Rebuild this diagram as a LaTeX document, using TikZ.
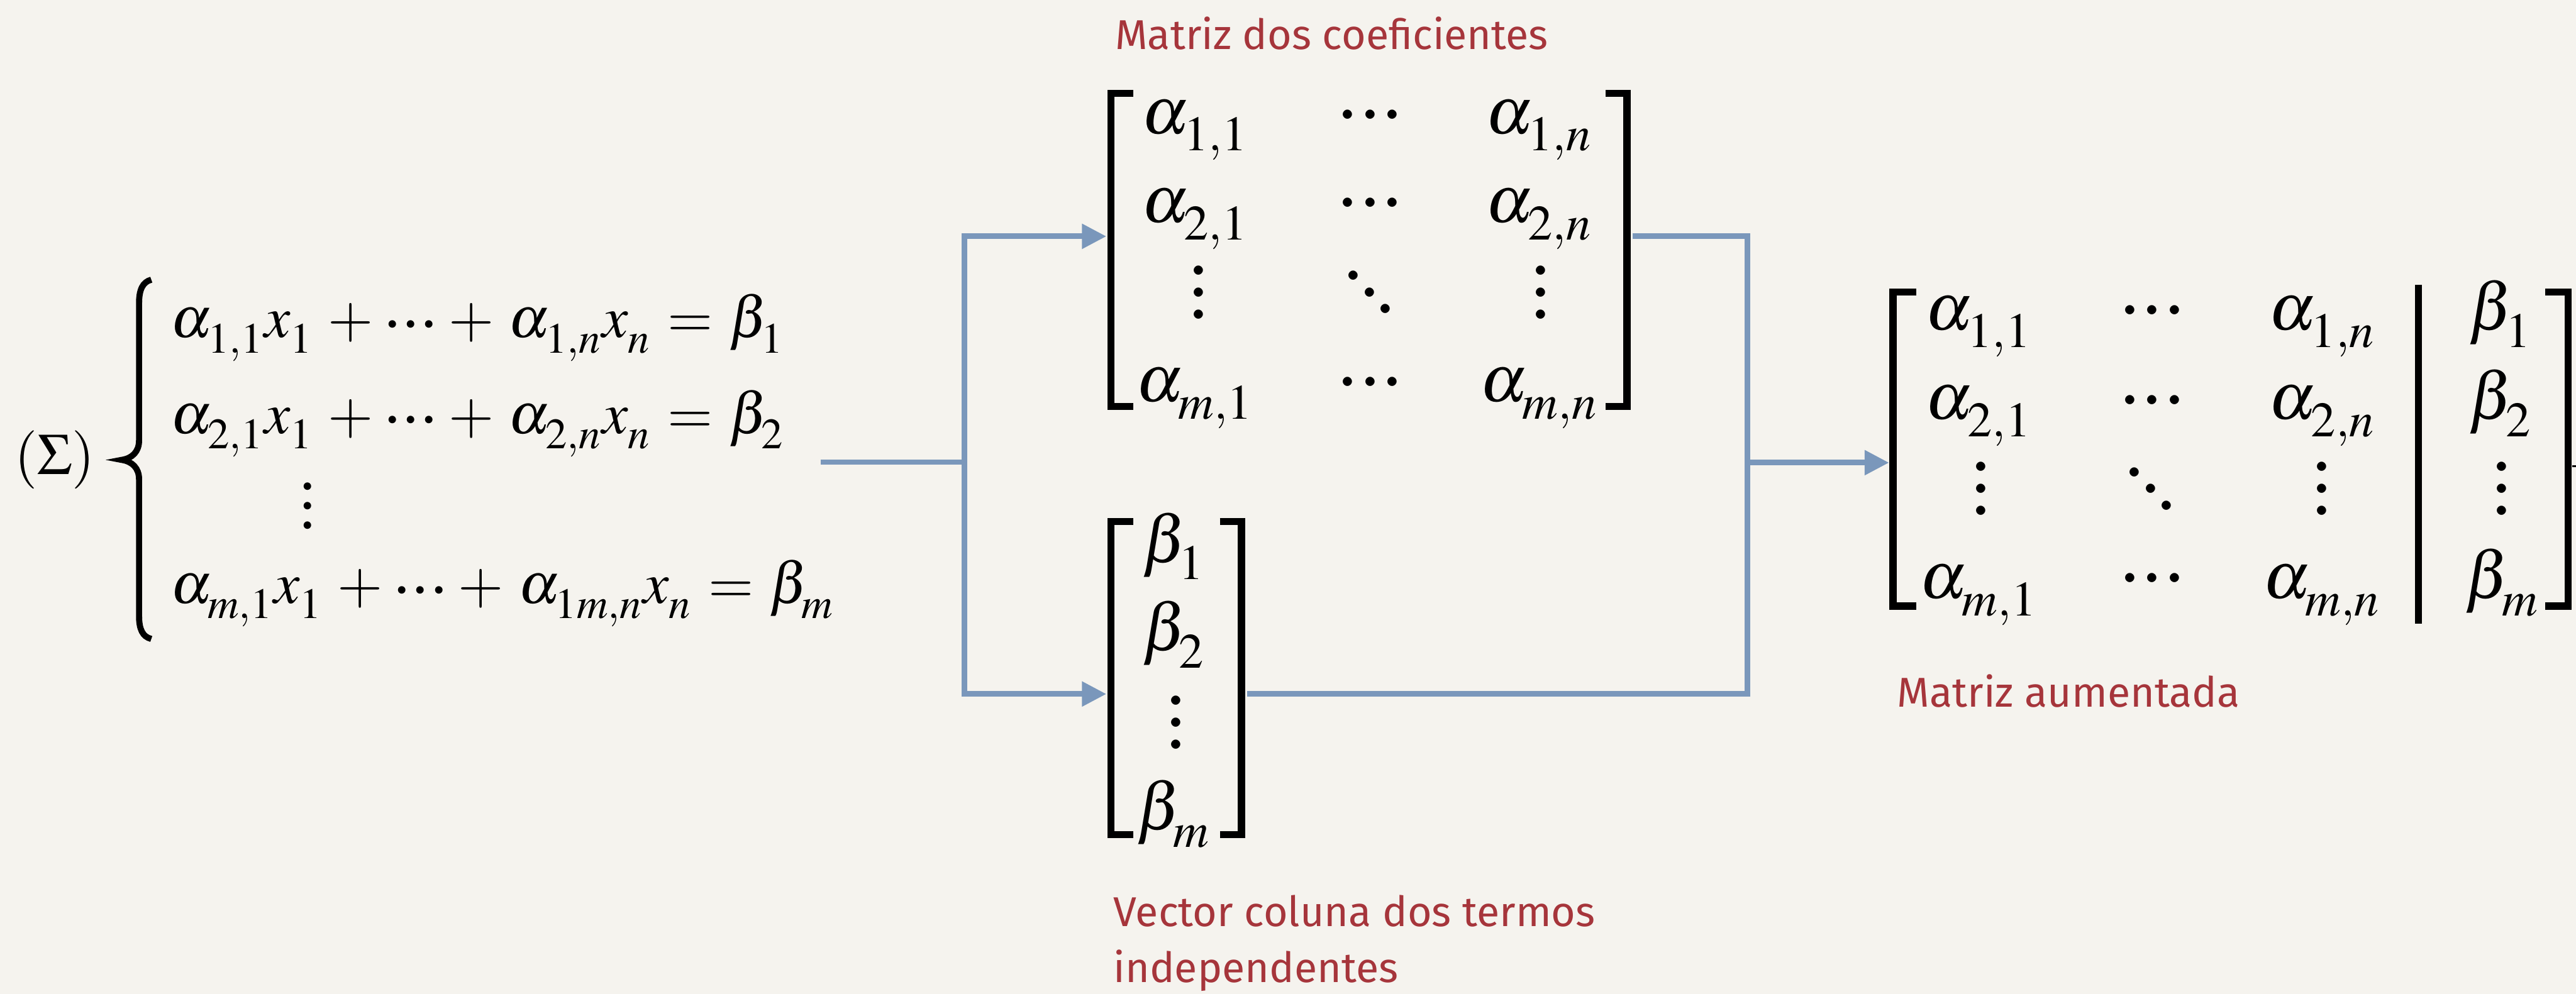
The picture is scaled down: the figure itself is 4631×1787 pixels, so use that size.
\documentclass[tikz,border=0pt]{standalone}
\usepackage{mathptmx}
\usepackage[no-math]{fontspec}
\newfontfamily\labfont{Fira Sans}
\usetikzlibrary{arrows.meta,fit}
\definecolor{bg}{HTML}{F5F3EE}
\definecolor{linkblue}{HTML}{7A97BB}
\definecolor{labred}{HTML}{A6353B}
% large dots (matrix) and small dots (system)
\newcommand\bd{\hbox{\fontsize{8.5}{8.5}\selectfont$\bullet$}}
\newcommand\sbd{\hbox{\fontsize{7}{7}\selectfont$\bullet$}}
\newcommand\Hdots{\hbox{\bd\kern3.75pt\bd\kern3.75pt\bd}}
\newcommand\Vdots{\vbox{\offinterlineskip\bd\kern4.2pt\bd\kern4.2pt\bd}}
\newcommand\Ddots{\hbox{\raise12pt\bd\kern1.55pt\raise6pt\bd\kern1.55pt\bd}}
\newcommand\sHdots{\mathinner{\raise3pt\hbox{\sbd\kern3.1pt\sbd\kern3.1pt\sbd}}}
\newcommand\sVdots{\vbox{\offinterlineskip\sbd\kern3.9pt\sbd\kern3.9pt\sbd}}
\newcommand\sbfix{\fontdimen16\textfont2=0.26\fontdimen6\textfont2}
\newcommand\sysfix{\sbfix\medmuskip=4.5mu\thickmuskip=5mu}
\tikzset{
  mtx/.style={font=\fontsize{24}{28}\selectfont, anchor=base, inner sep=0pt},
  dts/.style={anchor=center, inner sep=0pt},
  sysf/.style={font=\fontsize{21}{25}\selectfont, anchor=base west, inner sep=0pt},
  brk/.style={line width=2.6pt, line join=miter, line cap=butt},
  link/.style={draw=linkblue, line width=2pt, line join=miter},
  arr/.style={link, -{Triangle[length=8.8pt,width=8.6pt]}},
  lab/.style={font=\labfont\fontsize{15}{20.2}\selectfont, text=labred, anchor=base west, inner sep=0pt, align=left},
  hold/.style={inner sep=0pt, draw=none}
}
\begin{document}
\begin{tikzpicture}[x=0.2pt, y=-0.2pt]
\useasboundingbox (0,0) rectangle (4631,1787);
\fill[bg] (0,0) rectangle (4631,1787);

% ---------- system ----------
\node[font=\fontsize{21}{25}\selectfont, anchor=base, inner sep=0pt] (sig) at (98,853) {$(\Sigma)$};
\draw[line width=2.2pt] (272,503) .. controls (256,507) and (250,522) .. (250,545)
  -- (250,792) .. controls (250,812) and (238,824) .. (219,827)
  .. controls (238,830) and (250,842) .. (250,862)
  -- (250,1108) .. controls (250,1131) and (256,1145) .. (272,1149);
\node[sysf] (s1) at (306,607) {$\sysfix\alpha_{1,1}x_1+\sHdots+\alpha_{1,n}x_n=\beta_1$};
\node[sysf] (s2) at (306,779) {$\sysfix\alpha_{2,1}x_1+\sHdots+\alpha_{2,n}x_n=\beta_2$};
\node[dts] (s3) at (553,911) {\sVdots};
\node[sysf] (s4) at (306,1085) {$\sysfix\alpha_{m,1}x_1+\sHdots+\alpha_{1m,n}x_n=\beta_m$};
\node[hold, fit={(20,502) (1474,1160)}] (sys) {};

% ---------- coefficient matrix ----------
\node[lab] (labA) at (2004,89) {Matriz dos coeficientes};
\draw[brk] (2037,168) -- (1997,168) -- (1997,731) -- (2037,731);
\draw[brk] (2887,168) -- (2925,168) -- (2925,731) -- (2887,731);
\node[mtx] (a11) at (2148,240) {$\sbfix\alpha_{1,1}$};
\node[dts] (a12) at (2463,207) {\Hdots};
\node[mtx] (a13) at (2767,240) {$\sbfix\alpha_{1,n}$};
\node[mtx] (a21) at (2148,400) {$\sbfix\alpha_{2,1}$};
\node[dts] (a22) at (2463,366) {\Hdots};
\node[mtx] (a23) at (2767,400) {$\sbfix\alpha_{2,n}$};
\node[dts] (a31) at (2155,527) {\Vdots};
\node[dts] (a32) at (2462,527) {\Ddots};
\node[dts] (a33) at (2770,527) {\Vdots};
\node[mtx] (a41) at (2148,722) {$\sbfix\alpha_{m,1}$};
\node[dts] (a42) at (2463,688) {\Hdots};
\node[mtx] (a43) at (2767,722) {$\sbfix\alpha_{m,n}$};
\node[hold, fit={(1990,168) (2934,682)}] (A) {};

% ---------- beta vector ----------
\draw[brk] (2037,938) -- (1997,938) -- (1997,1501) -- (2037,1501);
\draw[brk] (2193,938) -- (2232,938) -- (2232,1501) -- (2193,1501);
\node[mtx] (b1) at (2110,1011) {$\sbfix\beta_1$};
\node[mtx] (b2) at (2110,1170) {$\sbfix\beta_2$};
\node[dts] (b3) at (2114,1301) {\Vdots};
\node[mtx] (b4) at (2110,1492) {$\sbfix\beta_m$};
\node[hold, fit={(1990,938) (2241,1558)}] (B) {};
\node[lab] (labB) at (2001,1767) {Vector coluna dos termos\\independentes};

% ---------- augmented matrix ----------
\draw[brk] (3445,525) -- (3403,525) -- (3403,1090) -- (3445,1090);
\draw[brk] (4576,525) -- (4617,525) -- (4617,1090) -- (4576,1090);
\draw[brk] (4348,512) -- (4348,1122);
\draw[line width=0.7pt] (4624,838) -- (4631,838);
\node[mtx] (c11) at (3557,593) {$\sbfix\alpha_{1,1}$};
\node[dts] (c12) at (3869,559) {\Hdots};
\node[mtx] (c13) at (4175,593) {$\sbfix\alpha_{1,n}$};
\node[mtx] (c14) at (4495,593) {$\sbfix\beta_1$};
\node[mtx] (c21) at (3557,754) {$\sbfix\alpha_{2,1}$};
\node[dts] (c22) at (3869,720) {\Hdots};
\node[mtx] (c23) at (4175,754) {$\sbfix\alpha_{2,n}$};
\node[mtx] (c24) at (4495,754) {$\sbfix\beta_2$};
\node[dts] (c31) at (3561,880) {\Vdots};
\node[dts] (c32) at (3866,880) {\Ddots};
\node[dts] (c33) at (4174,880) {\Vdots};
\node[dts] (c34) at (4497,880) {\Vdots};
\node[mtx] (c41) at (3557,1076) {$\sbfix\alpha_{m,1}$};
\node[dts] (c42) at (3869,1041) {\Hdots};
\node[mtx] (c43) at (4174,1076) {$\sbfix\alpha_{m,n}$};
\node[mtx] (c44) at (4498,1076) {$\sbfix\beta_m$};
\node[hold, fit={(3397,525) (4624,1139)}] (C) {};
\node[lab] (labC) at (3410,1271) {Matriz aumentada};

% ---------- connectors ----------
\coordinate (j1) at (1734,831);
\coordinate (j2) at (3141,832);
\draw[link] (sys.east) -- (j1);
\draw[arr] (j1) |- (A.west);
\draw[arr] (j1) |- (B.west);
\draw[link] (A.east) -| (j2);
\draw[link] (B.east) -| (j2);
\draw[arr] (j2) -- (C.west);
\end{tikzpicture}
\end{document}
